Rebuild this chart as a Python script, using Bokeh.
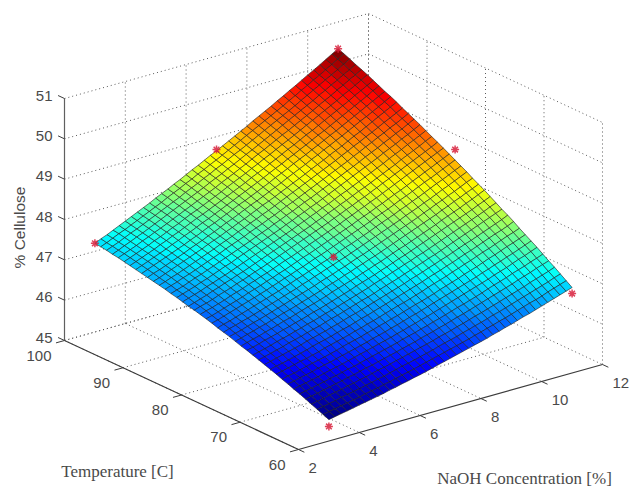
from bokeh.plotting import figure
from bokeh.models import Range1d
from bokeh.core.properties import value
from bokeh.embed import file_html
from bokeh.resources import INLINE

temperature = [60,61,62,63,64,65,66,67,68,69,70,71,72,73,74,75,76,77,78,79,80,
               81,82,83,84,85,86,87,88,89,90,91,92,93,94,95,96,97,98,99,100]
naoh = [3.0,3.2,3.4,3.6,3.8,4.0,4.2,4.4,4.6,4.8,5.0,5.2,5.4,5.6,5.8,6.0,6.2,6.4,6.6,6.8,7.0,
        7.2,7.4,7.6,7.8,8.0,8.2,8.4,8.6,8.8,9.0,9.2,9.4,9.6,9.8,10.0,10.2,10.4,10.6,10.8,11.0]

# % Cellulose above 45, in hundredths; one row per temperature, one column per NaOH value.
# Estimates: the corners, edge midpoints and colour bands were read from the picture;
# the nodes between them are smooth hand estimates, not individually measured.
cellulose_centi = [
[53,56,59,62,65,68,71,74,77,80, 84,87,91,94,98,101,105,109,113,117, 121,125,129,133,137,141,145,150,154,159, 163,168,173,177,182,187,192,197,202,207, 212],
[59,62,65,68,71,74,77,81,84,87, 91,94,98,102,105,109,113,117,121,125, 129,133,137,141,145,150,154,159,163,168, 172,177,182,187,192,196,201,207,212,217, 222],
[65,68,71,74,78,81,84,87,91,94, 98,101,105,109,113,116,120,124,128,132, 137,141,145,149,154,158,163,167,172,177, 181,186,191,196,201,206,211,216,221,227, 232],
[71,74,77,81,84,87,91,94,98,101, 105,109,112,116,120,124,128,132,136,140, 144,149,153,157,162,166,171,176,180,185, 190,195,200,205,210,215,221,226,231,236, 242],
[77,80,83,87,90,94,97,101,104,108, 112,115,119,123,127,131,135,139,143,148, 152,156,161,165,170,175,179,184,189,194, 199,204,209,214,219,225,230,235,241,246, 251],
[83,86,89,93,96,100,103,107,111,114, 118,122,126,130,134,138,142,147,151,155, 160,164,169,173,178,183,188,192,197,202, 207,213,218,223,228,234,239,244,250,255, 261],
[88,92,95,99,102,106,110,113,117,121, 125,129,133,137,141,145,149,154,158,163, 167,172,176,181,186,191,196,201,206,211, 216,221,226,232,237,242,248,254,259,265, 271],
[94,97,101,104,108,112,116,119,123,127, 131,135,139,143,148,152,156,161,165,170, 175,179,184,189,194,199,204,209,214,219, 224,229,235,240,246,251,257,262,268,274, 280],
[99,103,106,110,114,118,121,125,129,133, 138,142,146,150,155,159,164,168,173,177, 182,187,192,196,201,206,212,217,222,227, 233,238,243,249,255,260,266,272,277,283, 289],
[105,108,112,116,120,123,127,131,136,140, 144,148,152,157,161,166,170,175,180,185, 190,194,199,204,209,215,220,225,230,236, 241,247,252,258,264,269,275,281,287,292, 298],
[110,114,117,121,125,129,133,138,142,146, 150,155,159,163,168,173,177,182,187,192, 197,202,207,212,217,222,228,233,238,244, 249,255,261,266,272,278,284,290,295,301, 308],
[115,119,123,127,131,135,139,144,148,152, 156,161,165,170,175,179,184,189,194,199, 204,209,214,219,225,230,235,241,246,252, 257,263,269,275,280,286,292,298,304,310, 317],
[120,124,128,132,136,141,145,149,154,158, 162,167,172,176,181,186,191,196,200,205, 211,216,221,226,232,237,243,248,254,259, 265,271,277,283,289,295,301,307,313,319, 325],
[125,129,133,137,142,146,150,155,159,164, 168,173,178,182,187,192,197,202,207,212, 218,223,228,234,239,245,250,256,261,267, 273,279,285,291,297,303,309,315,321,328, 334],
[130,134,138,143,147,151,156,160,165,169, 174,179,183,188,193,198,203,208,214,219, 224,229,235,240,246,252,257,263,269,275, 281,287,293,299,305,311,317,323,330,336, 343],
[134,139,143,147,152,156,161,166,170,175, 180,185,189,194,199,205,210,215,220,225, 231,236,242,247,253,259,265,270,276,282, 288,294,300,307,313,319,325,332,338,345, 352],
[139,143,148,152,157,161,166,171,176,180, 185,190,195,200,205,211,216,221,227,232, 238,243,249,254,260,266,272,278,284,290, 296,302,308,314,321,327,334,340,347,353, 360],
[144,148,152,157,162,166,171,176,181,186, 191,196,201,206,211,217,222,227,233,238, 244,250,255,261,267,273,279,285,291,297, 303,309,316,322,329,335,342,348,355,362, 368],
[148,153,157,162,166,171,176,181,186,191, 196,201,206,212,217,223,228,234,239,245, 250,256,262,268,274,280,286,292,298,304, 311,317,323,330,336,343,350,356,363,370, 377],
[152,157,161,166,171,176,181,186,191,196, 201,207,212,218,223,229,234,240,245,251, 257,263,268,274,280,286,293,299,305,311, 318,324,331,337,344,351,358,364,371,378, 385],
[157,161,166,171,176,181,186,191,196,201, 207,212,218,223,229,234,240,246,251,257, 263,269,275,281,287,293,299,306,312,318, 325,332,338,345,352,359,365,372,379,386, 393],
[161,165,170,175,180,185,190,196,201,206, 212,217,223,228,234,240,246,251,257,263, 269,275,281,287,293,300,306,312,319,325, 332,339,345,352,359,366,373,380,387,394, 401],
[165,170,174,179,184,190,195,200,206,211, 217,222,228,234,240,245,251,257,263,269, 275,281,287,293,300,306,313,319,326,332, 339,346,353,360,367,374,381,388,395,402, 409],
[169,174,178,183,189,194,199,205,210,216, 222,227,233,239,245,251,257,263,269,275, 281,287,293,300,306,313,319,326,332,339, 346,353,360,367,374,381,388,395,402,409, 417],
[172,177,182,187,193,198,204,209,215,220, 226,232,238,244,250,256,262,268,274,280, 286,293,299,306,312,319,325,332,339,345, 352,359,366,373,380,388,395,402,409,417, 424],
[176,181,186,191,197,202,208,213,219,225, 231,237,243,249,255,261,267,273,279,286, 292,299,305,312,318,325,332,338,345,352, 359,366,373,380,388,395,402,410,417,424, 432],
[180,185,190,195,201,206,212,218,224,229, 236,242,248,254,260,266,272,278,285,291, 298,304,311,317,324,331,338,345,352,359, 366,373,380,387,395,402,409,417,424,432, 440],
[183,188,193,199,205,210,216,222,228,234, 240,246,252,258,265,271,277,284,290,297, 303,310,317,323,330,337,344,351,358,365, 372,379,387,394,401,409,416,424,431,439, 447],
[187,192,197,203,208,214,220,226,232,238, 245,251,257,263,270,276,282,289,295,302, 309,315,322,329,336,343,350,357,364,371, 378,386,393,401,408,416,423,431,438,446, 454],
[190,195,201,206,212,218,224,230,236,242, 249,255,261,268,274,281,287,294,300,307, 314,321,328,335,342,349,356,363,370,377, 385,392,400,407,415,422,430,438,445,453, 461],
[193,198,204,210,216,222,228,234,240,247, 253,259,266,272,279,285,292,299,306,312, 319,326,333,340,347,354,362,369,376,384, 391,398,406,414,421,429,437,445,453,461, 469],
[196,202,207,213,219,225,231,238,244,250, 257,263,270,277,283,290,297,304,310,317, 324,331,338,346,353,360,367,375,382,390, 397,405,412,420,428,436,443,451,459,467, 476],
[199,205,211,217,223,229,235,241,248,254, 261,268,274,281,288,295,302,308,315,322, 329,336,344,351,358,366,373,380,388,395, 403,411,418,426,434,442,450,458,466,474, 482],
[202,208,214,220,226,232,239,245,252,258, 265,272,278,285,292,299,306,313,320,327, 334,341,349,356,363,371,378,386,393,401, 409,416,424,432,440,448,456,464,472,481, 489],
[205,211,217,223,229,236,242,249,255,262, 269,276,282,289,296,303,310,317,324,331, 339,346,353,361,368,376,384,391,399,407, 414,422,430,438,446,454,462,471,479,487, 496],
[208,214,220,226,232,239,245,252,259,265, 273,280,286,293,300,307,314,322,329,336, 343,351,358,366,373,381,389,396,404,412, 420,428,436,444,452,460,469,477,485,494, 503],
[211,217,223,229,236,242,249,255,262,269, 276,283,290,297,304,311,318,326,333,340, 348,355,363,371,378,386,394,402,409,417, 425,433,441,450,458,466,475,483,492,500, 509],
[213,219,226,232,239,245,252,259,266,273, 280,287,294,301,308,315,323,330,337,345, 352,360,368,375,383,391,399,407,415,423, 431,439,447,455,464,472,481,489,498,506, 515],
[216,222,228,235,242,248,255,262,269,276, 283,290,297,305,312,319,327,334,342,349, 357,365,372,380,388,396,404,412,420,428, 436,444,453,461,470,478,487,495,504,513, 522],
[218,224,231,238,244,251,258,265,272,279, 286,294,301,308,316,323,331,338,346,353, 361,369,377,385,393,401,409,417,425,433, 441,450,458,467,475,484,492,501,510,519, 528],
[220,227,233,240,247,254,261,268,275,282, 290,297,304,312,319,327,335,342,350,358, 365,373,381,389,397,405,414,422,430,438, 447,455,464,472,481,490,498,507,516,525, 534],
]

z_ticks = [45,46,47,48,49,50,51]
t_ticks = [100,90,80,70,60]
n_ticks = [2,4,6,8,10,12]
z_tick_labels = ["45","46","47","48","49","50","51"]
t_tick_labels = ["100","90","80","70","60"]
n_tick_labels = ["2","4","6","8","10","12"]

# measured runs: temperature, NaOH, % cellulose
run_t = [100,100,100,80,60,60,80]
run_n = [3,7,11,11,11,3,7]
run_z = [47.2,48.68,50.34,49.19,46.97,45.36,47.36]

z_title = "% Cellulose"
t_title = "Temperature [C]"
n_title = "NaOH Concentration [%]"

SANS = "Liberation Sans"
SERIF = "Liberation Serif"
TEXT = "#4a4a4a"

def px(t, n):
    return 64 + (100 - t) / 40 * 234 + (n - 2) / 10 * 304

def py(t, n, z):
    return 340 + (100 - t) / 40 * 109 - (n - 2) / 10 * 85 - (z - 45) * 40.33

def jet(f):
    f = min(max(f, 0), 0.9999)
    f = (int(f * 64) + 0.5) / 64
    r = min(max(min(4 * f - 1.5, -4 * f + 4.5), 0), 1)
    g = min(max(min(4 * f - 0.5, -4 * f + 3.5), 0), 1)
    b = min(max(min(4 * f + 0.5, -4 * f + 2.5), 0), 1)
    return "#%02x%02x%02x" % (int(r * 255), int(g * 255), int(b * 255))

p = figure(width=630, height=488, x_range=Range1d(0, 630), y_range=Range1d(488, 0),
           output_backend="svg", toolbar_location=None, min_border=0)
p.axis.visible = False
p.grid.visible = False
p.outline_line_color = None
p.background_fill_color = "white"

# dotted walls and floor
gx0, gy0, gx1, gy1 = [], [], [], []
def seg(a, b):
    gx0.append(px(a[0], a[1])); gy0.append(py(*a))
    gx1.append(px(b[0], b[1])); gy1.append(py(*b))
for z in z_ticks:
    seg((100, 2, z), (100, 12, z))
    seg((100, 12, z), (60, 12, z))
for n in n_ticks:
    seg((100, n, 45), (100, n, 51))
    if n < 12:
        seg((100, n, 45), (60, n, 45))
for t in t_ticks:
    seg((t, 12, 45), (t, 12, 51))
    if t > 60:
        seg((t, 2, 45), (t, 12, 45))
p.segment(gx0, gy0, gx1, gy1, line_color="#5a5a5a", line_width=1, line_dash="1 3")

# surface
zmin = min(min(r) for r in cellulose_centi)
zmax = max(max(r) for r in cellulose_centi)
xs, ys, cols = [], [], []
for i in range(len(temperature) - 1, 0, -1):
    for j in range(len(naoh) - 1):
        corners = [(i, j), (i, j + 1), (i - 1, j + 1), (i - 1, j)]
        vals = [cellulose_centi[a][b] for a, b in corners]
        xs.append([px(temperature[a], naoh[b]) for a, b in corners])
        ys.append([py(temperature[a], naoh[b], 45 + cellulose_centi[a][b] / 100) for a, b in corners])
        cols.append(jet((sum(vals) / 4 - zmin) / (zmax - zmin)))
p.patches(xs, ys, fill_color=cols, line_color="#1c1c1c", line_width=0.9, line_alpha=0.65)

# runs
p.scatter([px(t, n) for t, n in zip(run_t, run_n)],
          [py(t, n, z) for t, n, z in zip(run_t, run_n, run_z)],
          marker="asterisk", size=8, line_color="#d8203c", line_width=1.5, line_alpha=0.85)

# axes
ax = [(100, 2, 45), (60, 2, 45), (60, 12, 45)]
p.line([px(a[0], a[1]) for a in ax], [py(*a) for a in ax], line_color="#3c3c3c", line_width=1.2)
p.line([px(100, 2)] * 2, [py(100, 2, 45), py(100, 2, 51)], line_color="#606060", line_width=1.2)

tx0, ty0, tx1, ty1 = [], [], [], []
def tick(a, b):
    tx0.append(px(a[0], a[1])); ty0.append(py(*a))
    tx1.append(px(b[0], b[1])); ty1.append(py(*b))
for z in z_ticks:
    tick((100, 2, z), (101.1, 2, z))
for t in t_ticks:
    tick((t, 2, 45), (t, 1.72, 45))
for n in n_ticks:
    tick((60, n, 45), (59, n, 45))
p.segment(tx0, ty0, tx1, ty1, line_color="#3c3c3c", line_width=1)

def label(x, y, s, align="center", font=SANS, size="15px", angle=0.0):
    p.text([x], [y], text=[s], text_align=align, text_baseline="middle",
           text_font=value(font), text_font_size=size, text_color=TEXT, angle=angle)

for z, s in zip(z_ticks, z_tick_labels):
    label(px(100, 2) - 12, py(100, 2, z) - 3, s, "right")
for t, s in zip(t_ticks, t_tick_labels):
    label(px(t, 2) - 13, py(t, 2, 45) + 15, s, "right")
for n, s in zip(n_ticks, n_tick_labels):
    label(px(60, n) + 10, py(60, n, 45) + 18, s, "left")

label(19, 227, z_title, "center", SANS, "15.5px", 1.5708)
label(117, 471, t_title, "center", SERIF, "17px")
label(524, 478, n_title, "center", SERIF, "17px")

open("out.html", "w").write(file_html(p, INLINE))
